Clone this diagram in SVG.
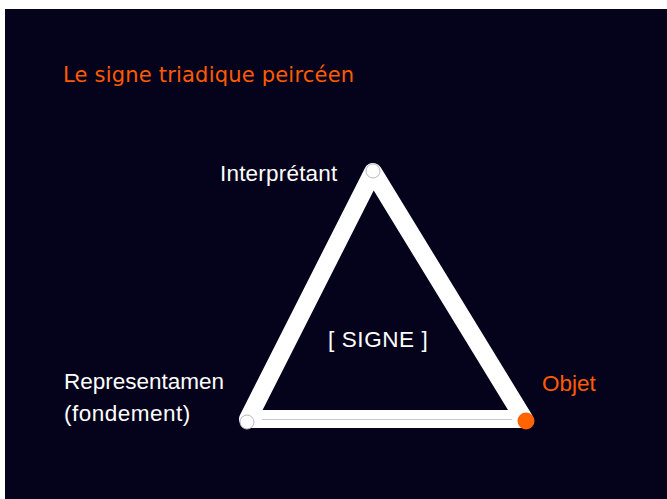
<svg xmlns="http://www.w3.org/2000/svg" width="667" height="499" viewBox="0 0 667 499">
  <style>
    .title { font-family: "DejaVu Sans", sans-serif; font-size: 21px; fill: #ff5a00; letter-spacing: 0.2px; }
    .lbl { font-family: "Liberation Sans", Arial, sans-serif; font-size: 22.5px; fill: #ffffff; }
    .lbl.accent { fill: #ff5a00; }
    .edge { fill: none; stroke: #ffffff; stroke-width: 18; stroke-linejoin: round; }
    .vertex { fill: #ffffff; stroke: #b8b8c0; stroke-width: 1; }
  </style>
  <rect x="0" y="0" width="667" height="499" fill="#ffffff"/>
  <rect x="5" y="9" width="662" height="490" fill="#05031c"/>

  <text class="title" x="63" y="82">Le signe triadique peircéen</text>

  <g id="connectors">
    <polygon class="edge" points="373,172 248,419 524,419"/>
    <line x1="262" y1="419.5" x2="512" y2="419.5" stroke="#c8c8cc" stroke-width="1"/>
  </g>

  <g id="interpretant">
    <circle class="vertex" cx="373" cy="171" r="7"/>
    <text class="lbl" x="220" y="181" letter-spacing="0.2">Interprétant</text>
  </g>

  <g id="representamen">
    <circle class="vertex" cx="247" cy="422" r="7"/>
    <text class="lbl" x="64" y="389">Representamen</text>
    <text class="lbl" x="64" y="421" letter-spacing="0.5">(fondement)</text>
  </g>

  <g id="objet">
    <circle cx="526" cy="421" r="8.5" fill="#ff6400"/>
    <text class="lbl accent" x="542" y="391" font-size="23">Objet</text>
  </g>

  <g id="signe">
    <text class="lbl" x="328" y="347" letter-spacing="0.6">[ SIGNE ]</text>
  </g>
</svg>
